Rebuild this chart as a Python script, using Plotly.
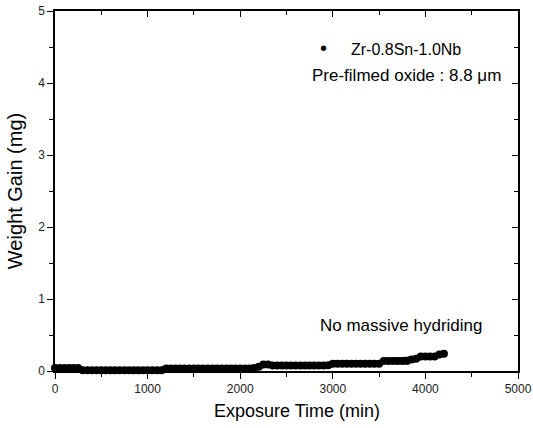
import plotly.graph_objects as go

# Exposure time (min) and weight gain (mg)
time_min = [0, 50, 100, 150, 200, 250, 300, 350, 400, 450, 500, 550, 600, 650, 700, 750,
            800, 850, 900, 950, 1000, 1050, 1100, 1150, 1200, 1250, 1300, 1350, 1400, 1450,
            1500, 1550, 1600, 1650, 1700, 1750, 1800, 1850, 1900, 1950, 2000, 2050, 2100,
            2150, 2200, 2250, 2300, 2350, 2400, 2450, 2500, 2550, 2600, 2650, 2700, 2750,
            2800, 2850, 2900, 2950, 3000, 3050, 3100, 3150, 3200, 3250, 3300, 3350, 3400,
            3450, 3500, 3550, 3600, 3650, 3700, 3750, 3800, 3850, 3900, 3950, 4000, 4050,
            4100, 4150, 4200]
weight_mg = [0.04, 0.04, 0.04, 0.04, 0.04, 0.04, 0.01, 0.01, 0.01, 0.01, 0.01, 0.01, 0.01,
             0.01, 0.01, 0.01, 0.01, 0.01, 0.01, 0.01, 0.01, 0.01, 0.01, 0.01, 0.035, 0.035,
             0.035, 0.035, 0.035, 0.035, 0.035, 0.035, 0.035, 0.035, 0.035, 0.035, 0.035,
             0.035, 0.035, 0.035, 0.035, 0.035, 0.035, 0.04, 0.06, 0.09, 0.09, 0.075, 0.075,
             0.075, 0.075, 0.075, 0.075, 0.075, 0.075, 0.075, 0.075, 0.075, 0.075, 0.08,
             0.10, 0.10, 0.10, 0.10, 0.10, 0.10, 0.10, 0.10, 0.10, 0.10, 0.10, 0.14, 0.14,
             0.14, 0.14, 0.14, 0.14, 0.16, 0.17, 0.20, 0.20, 0.20, 0.20, 0.23, 0.24]

x_ticks = [0, 1000, 2000, 3000, 4000, 5000]
y_ticks = [0, 1, 2, 3, 4, 5]

FONT = "Liberation Sans, Arial, sans-serif"

fig = go.Figure()
fig.add_trace(go.Scatter(
    x=time_min, y=weight_mg, mode="lines+markers",
    line=dict(color="black", width=6),
    marker=dict(color="black", size=8),
    cliponaxis=False, showlegend=False, hoverinfo="skip",
))
# dummy trace for mirrored axes (inside ticks on top/right)
fig.add_trace(go.Scatter(x=[None], y=[None], xaxis="x2", yaxis="y2", showlegend=False,
                         hoverinfo="skip"))

axis_common = dict(showgrid=False, zeroline=False, linecolor="black", linewidth=1.5,
                   automargin=False)

fig.update_layout(
    width=533, height=428,
    margin=dict(l=55, r=15, t=11, b=57),
    paper_bgcolor="white", plot_bgcolor="white",
    font=dict(family=FONT, color="black"),
    xaxis=dict(range=[0, 5000], tickvals=x_ticks, ticks="outside", ticklen=6,
               tickwidth=1.2, tickcolor="black", showline=True, mirror=True,
               minor=dict(dtick=500, ticks="outside", ticklen=4, tickcolor="black"),
               tickfont=dict(size=12, color="#222"),
               **axis_common),
    yaxis=dict(range=[0, 5], tickvals=y_ticks, ticks="outside", ticklen=6,
               tickwidth=1.2, tickcolor="black", showline=True, mirror=True,
               minor=dict(dtick=0.5, ticks="outside", ticklen=4, tickcolor="black"),
               tickfont=dict(size=12, color="#222"),
               title=dict(text="Weight Gain (mg)", font=dict(size=20), standoff=10),
               **axis_common),
    xaxis2=dict(range=[0, 5000], overlaying="x", side="top", tickvals=x_ticks,
                ticks="inside", ticklen=6, tickcolor="black", showticklabels=False,
                minor=dict(dtick=500, ticks="inside", ticklen=4, tickcolor="black"),
                showgrid=False, zeroline=False, showline=False, automargin=False),
    yaxis2=dict(range=[0, 5], overlaying="y", side="right", tickvals=y_ticks,
                ticks="inside", ticklen=6, tickcolor="black", showticklabels=False,
                minor=dict(dtick=0.5, ticks="inside", ticklen=4, tickcolor="black"),
                showgrid=False, zeroline=False, showline=False, automargin=False),
)

fig.add_annotation(x=0.523, y=0, xref="paper", yref="paper", yshift=-40,
                   xanchor="center", yanchor="middle",
                   text="Exposure Time (min)", showarrow=False,
                   font=dict(size=18, color="black"))
fig.add_annotation(x=2900, y=4.48, xref="x", yref="y", text="•", showarrow=False,
                   font=dict(size=20, color="black"))
fig.add_annotation(x=3790, y=4.46, xref="x", yref="y", text="Zr-0.8Sn-1.0Nb",
                   showarrow=False, font=dict(size=16, color="black"))
fig.add_annotation(x=3795, y=4.1, xref="x", yref="y", text="Pre-filmed oxide : 8.8 μm",
                   showarrow=False, font=dict(size=17, color="black"))
fig.add_annotation(x=3740, y=0.63, xref="x", yref="y", text="No massive hydriding",
                   showarrow=False, font=dict(size=17, color="black"))

fig.write_html("out.html", config={"displayModeBar": False},
               post_script="document.body.style.margin='0';")
